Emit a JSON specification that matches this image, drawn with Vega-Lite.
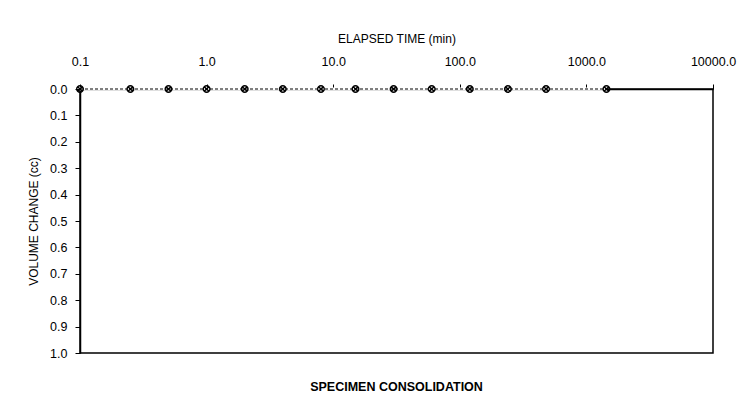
{
  "$schema": "https://vega.github.io/schema/vega-lite/v6.json",
  "width": 633,
  "height": 264,
  "autosize": {"type": "none"},
  "padding": {"left": 80, "top": 89, "right": 28, "bottom": 57},
  "background": "white",
  "config": {
    "font": "Liberation Sans",
    "view": {"stroke": "black", "strokeWidth": 1.5},
    "axis": {"domainColor": "black", "tickColor": "black", "labelColor": "black", "titleColor": "black", "labelFont": "Liberation Sans", "titleFont": "Liberation Sans", "grid": false}
  },
  "title": {
    "text": "SPECIMEN CONSOLIDATION",
    "orient": "bottom",
    "anchor": "middle",
    "fontSize": 12.5,
    "fontWeight": "bold",
    "color": "black",
    "font": "Liberation Sans",
    "offset": 21
  },
  "data": {
    "values": [
      {"time": 0.1, "volume": 0},
      {"time": 0.25, "volume": 0},
      {"time": 0.5, "volume": 0},
      {"time": 1, "volume": 0},
      {"time": 2, "volume": 0},
      {"time": 4, "volume": 0},
      {"time": 8, "volume": 0},
      {"time": 15, "volume": 0},
      {"time": 30, "volume": 0},
      {"time": 60, "volume": 0},
      {"time": 120, "volume": 0},
      {"time": 240, "volume": 0},
      {"time": 480, "volume": 0},
      {"time": 1440, "volume": 0}
    ]
  },
  "encoding": {
    "x": {
      "field": "time",
      "type": "quantitative",
      "scale": {"type": "log", "domain": [0.1, 10000], "nice": false},
      "axis": {
        "orient": "top",
        "title": "ELAPSED TIME (min)",
        "titleFontSize": 12,
        "titleFontWeight": "normal",
        "titlePadding": 10,
        "values": [0.1, 1, 10, 100, 1000, 10000],
        "format": ".1f",
        "labelFontSize": 12.5,
        "labelPadding": 16,
        "tickSize": 5,
        "labelOverlap": false,
        "labelFlush": false,
        "domainWidth": 1.5
      }
    },
    "y": {
      "field": "volume",
      "type": "quantitative",
      "scale": {"domain": [0, 1], "reverse": true, "nice": false},
      "axis": {
        "title": "VOLUME CHANGE (cc)",
        "titleFontSize": 12,
        "titleFontWeight": "normal",
        "titlePadding": 9,
        "values": [0, 0.1, 0.2, 0.3, 0.4, 0.5, 0.6, 0.7, 0.8, 0.9, 1.0],
        "format": ".1f",
        "labelFontSize": 12.5,
        "labelPadding": 8,
        "tickSize": 5,
        "domainWidth": 1.5,
        "labelOverlap": false,
        "labelFlush": false
      }
    }
  },
  "layer": [
    {"mark": {"type": "line", "color": "white", "strokeWidth": 3}},
    {"mark": {"type": "line", "color": "black", "strokeWidth": 1, "strokeDash": [3, 2]}},
    {"mark": {"type": "point", "shape": "M-1,0A1,1,0,1,1,1,0A1,1,0,1,1,-1,0M-0.7,-0.7L0.7,0.7M0.7,-0.7L-0.7,0.7", "filled": false, "color": "black", "size": 44, "strokeWidth": 1.4, "opacity": 1}}
  ]
}
